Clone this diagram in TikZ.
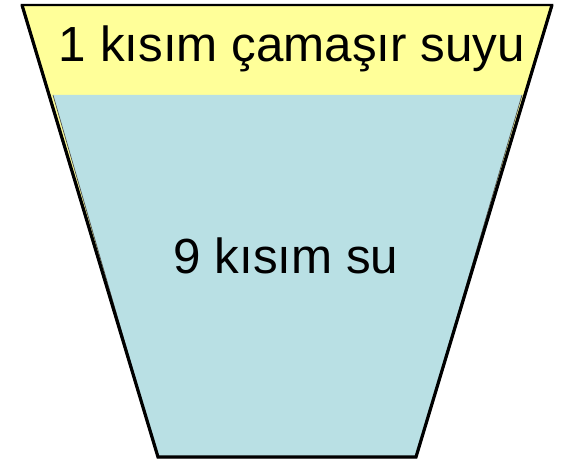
\documentclass[tikz,border=0pt]{standalone}
\usepackage{fontspec}
\setmainfont{Liberation Sans}
\usetikzlibrary{positioning}
\definecolor{bleach}{RGB}{255,255,153}
\definecolor{water}{RGB}{185,224,228}

\begin{document}
\begin{tikzpicture}[x=0.75pt, y=-0.75pt]
    \useasboundingbox (0,0) rectangle (562,460);
    % outer vessel (yellow layer)
    \draw[fill=bleach, line width=1.6pt, line join=miter] (22,5) -- (552,5) -- (416,457) -- (158,457) -- cycle;
    % water layer
    \fill[water] (53,95) -- (522,95) -- (416,457) -- (158,457) -- cycle;
    \draw[black!70, line width=0.5pt] (53,95) -- (158,457);
    \draw[black!70, line width=0.5pt] (522,95) -- (416,457);
    \draw[line width=2.4pt, line join=miter] (22,5) -- (158,457) -- (416,457) -- (552,5);
    \node[anchor=base, font=\fontsize{37}{42}\selectfont, inner sep=0pt] (bleachlabel) at (292,62) {1 kısım çamaşır suyu};
    \node[anchor=base, font=\fontsize{37}{42}\selectfont, inner sep=0pt] (waterlabel) at (286,274) {9 kısım su};
  \end{tikzpicture}
\end{document}
